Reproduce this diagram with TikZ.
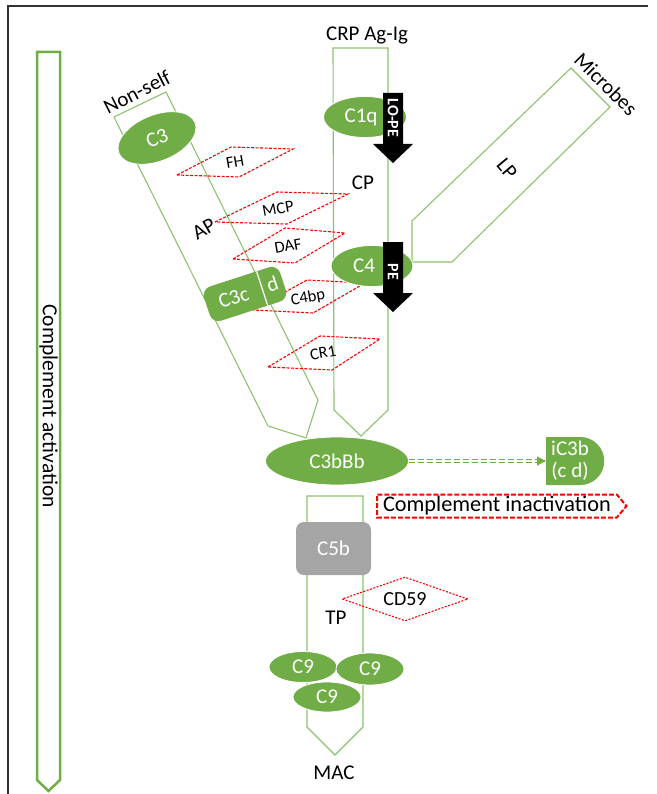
\documentclass[tikz,border=0pt]{standalone}
\usepackage{fontspec}
\setmainfont{Carlito}
\usetikzlibrary{shapes.geometric,shapes.misc,shapes.symbols,arrows.meta}
\definecolor{cgreen}{HTML}{70AD47}
\definecolor{lgreen}{HTML}{8CC26B}
\definecolor{cgray}{HTML}{A5A5A5}
\begin{document}
\begin{tikzpicture}[x=1pt,y=1pt,
  lab/.style={font=\fontsize{21}{22}\selectfont},
  small/.style={font=\fontsize{16.5}{17}\selectfont},
  band/.style={draw=lgreen,line width=1.1},
  blob/.style={ellipse,fill=cgreen,draw=white,line width=0.8,text=white,inner sep=0,lab},
  inhib/.style={draw=red,dash pattern=on 3 off 1.5,line width=1.1},
  pe/.style={text=white,rotate=-90,inner sep=0,font=\fontsize{16}{16}\selectfont\bfseries}]
\useasboundingbox (0,0) rectangle (656,-794);
\draw[line width=1.5,black!80] (8,-794) -- (8,-6) -- (648,-6);
% activation
\draw[draw=cgreen,line width=2.5] (37,-52) -- (60,-52) -- (60,-780) -- (48.5,-791) -- (37,-780) -- cycle;
\node[rotate=-90,font=\fontsize{21.5}{22}\selectfont] (act) at (48.5,-406) {Complement activation};
% pathways
\draw[band] (114,-117) -- (166,-92) -- (318,-400) -- (306,-438) -- (268,-426) -- cycle;
\draw[band] (333,-48) -- (388,-48) -- (388,-410) -- (361,-436) -- (334,-410) -- cycle;
\draw[band] (412,-262) -- (412,-221) -- (571,-68) -- (610,-107) -- (452,-262) -- cycle;
\draw[band] (307,-496) -- (363,-496) -- (363,-727) -- (335,-755) -- (307,-727) -- cycle;
\node[lab,rotate=27] (nonself) at (137,-92) {Non-self};
\node[lab,rotate=30] (AP) at (204,-229) {AP};
\node[lab] (crp) at (367,-35) {CRP Ag-Ig};
\node[lab] (CP) at (363,-183) {CP};
\node[lab,rotate=-50] (LP) at (507,-169) {LP};
\node[lab,rotate=-45] (microbes) at (606,-84) {Microbes};
\node[lab] (TP) at (336,-618) {TP};
\node[lab] (MAC) at (334,-773) {MAC};
% regulators
\draw[inhib] (177,-175) -- (231,-147) -- (293,-149) -- (239,-177) -- cycle;
\node[small,rotate=10] (FH) at (235,-162) {FH};
\draw[inhib] (215,-222) -- (277,-192) -- (348,-194) -- (287,-224) -- cycle;
\node[small,rotate=10] (MCP) at (278,-209) {MCP};
\draw[inhib] (233,-259) -- (285,-228) -- (345,-233) -- (295,-263) -- cycle;
\node[small,rotate=10] (DAF) at (288,-246) {DAF};
\draw[inhib] (253,-310) -- (307,-280) -- (365,-283) -- (313,-313) -- cycle;
\node[small,rotate=10] (C4bp) at (308,-298) {C4bp};
\draw[inhib] (268,-367) -- (320,-336) -- (380,-339) -- (332,-370) -- cycle;
\node[small,rotate=10] (CR1) at (323,-353) {CR1};
\node[diamond,inhib,dash pattern=on 2 off 1.5,aspect=2.9,inner sep=0,minimum width=126,minimum height=44,font=\fontsize{20}{20}\selectfont] (CD59) at (405,-599) {CD59};
% components
\node[blob,rotate=22,minimum width=82,minimum height=46] (C3) at (157,-138) {C3};
\node[blob,minimum width=83,minimum height=41] (C1q) at (365,-117) {C1q\hspace*{8pt}};
\node[blob,minimum width=82,minimum height=41] (C4) at (372,-266) {C4\hspace*{16pt}};
\begin{scope}[shift={(245,-294)},rotate=18,transform shape]
\node[fill=cgreen,rounded corners=9,minimum width=80,minimum height=36] (C3cd) at (0,0) {};
\draw[white,line width=1.2] (18,-18) -- (18,18);
\node[lab,text=white] (C3c) at (-12,0) {C3c};
\node[lab,text=white] (d) at (29,1) {d};
\end{scope}
\fill (383,-93) -- (403,-93) -- (403,-144) -- (413,-144) -- (393,-163) -- (373,-144) -- (383,-144) -- cycle;
\node[pe] (lope) at (393,-118) {LO-PE};
\fill (383,-242) -- (403,-242) -- (403,-293) -- (413,-293) -- (393,-312) -- (373,-293) -- (383,-293) -- cycle;
\node[pe] (pe) at (393,-272) {PE};
\node[blob,minimum width=143,minimum height=48] (C3bBb) at (337,-461) {C3bBb};
\node[rounded rectangle,rounded rectangle left arc=none,fill=cgreen,text=white,lab,align=center,minimum height=48,inner xsep=5,inner ysep=0,anchor=west] (iC3b) at (546,-461) {iC3b\\(c d)};
\draw[draw=cgreen,double=white,double distance=1.6,line width=1,dash pattern=on 6 off 3,-{Triangle[length=9,width=9]}] (C3bBb) -- (iC3b);
\node[signal,signal to=east,signal pointer angle=100,draw=red,line width=2,dash pattern=on 5 off 2,minimum height=23,inner ysep=0,inner xsep=6,anchor=west,font=\fontsize{22.3}{23}\selectfont] (inact) at (376,-506) {Complement inactivation};
\node[fill=cgray,rounded corners=8,minimum width=75,minimum height=53,text=white,lab] (C5b) at (333.5,-548.5) {C5b};
\node[blob,minimum width=68,minimum height=30] (C9c) at (327,-697) {C9};
\node[blob,minimum width=68,minimum height=31] (C9a) at (303,-667) {C9};
\node[blob,minimum width=68,minimum height=32] (C9b) at (370,-669) {C9};
\end{tikzpicture}
\end{document}
